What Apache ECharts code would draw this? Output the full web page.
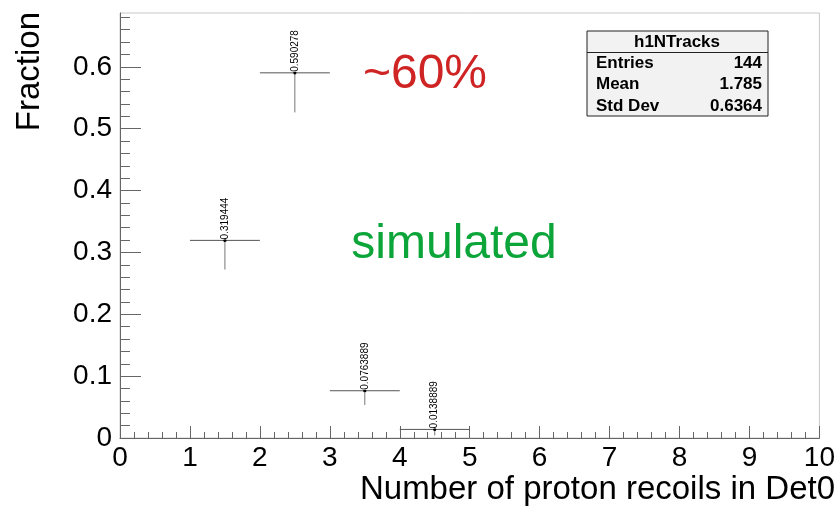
<!DOCTYPE html>
<html>
<head>
<meta charset="utf-8">
<script src="https://cdn.jsdelivr.net/npm/echarts@6/dist/echarts.min.js"></script>
<style>
html,body{margin:0;padding:0;background:#fff;}
#chart{width:838px;height:507px;}
</style>
</head>
<body>
<div id="chart"></div>
<script>
// ---- data ----
const binCenters = [1.5, 2.5, 3.5, 4.5];
const binHalfWidth = 0.5;
const fractions = [0.319444, 0.590278, 0.0763889, 0.0138889];
const errors = [0.0471, 0.0640, 0.0230, 0.0098];
const pointLabels = ['0.319444', '0.590278', '0.0763889', '0.0138889'];
const yTickValues = [0, 0.1, 0.2, 0.3, 0.4, 0.5, 0.6];
const statsTitle = 'h1NTracks';
const statsNames = ['Entries', 'Mean', 'Std Dev'];
const statsValues = ['144', '1.785', '0.6364'];
const xTitle = 'Number of proton recoils in Det0';
const yTitle = 'Fraction';

const FONT = '"Liberation Sans", Arial, Helvetica, sans-serif';
const chart = echarts.init(document.getElementById('chart'));

const seriesData = binCenters.map((c, i) => [c, fractions[i], errors[i]]);

const statsChildren = [
  {type: 'rect', shape: {x: 587, y: 31, width: 181, height: 85}, style: {fill: '#f2f2f2', stroke: '#222', lineWidth: 1}},
  {type: 'line', shape: {x1: 587, y1: 52.5, x2: 768, y2: 52.5}, style: {stroke: '#222', lineWidth: 1}},
  {type: 'text', x: 677, y: 42, style: {text: statsTitle, font: 'bold 17px ' + FONT, fill: '#000', align: 'center', verticalAlign: 'middle'}}
];
statsNames.forEach((n, i) => {
  const yy = 63 + i * 21.5;
  statsChildren.push({type: 'text', x: 596, y: yy, style: {text: n, font: 'bold 17px ' + FONT, fill: '#000', align: 'left', verticalAlign: 'middle'}});
  statsChildren.push({type: 'text', x: 762, y: yy, style: {text: statsValues[i], font: 'bold 17px ' + FONT, fill: '#000', align: 'right', verticalAlign: 'middle'}});
});

const option = {
  backgroundColor: '#fff',
  animation: false,
  grid: {left: 120, right: 17.5, top: 13, bottom: 69, show: true, borderColor: '#c8c8c8', borderWidth: 1, backgroundColor: 'transparent'},
  xAxis: {
    type: 'value', min: 0, max: 10, interval: 1,
    axisLine: {show: true, onZero: false, lineStyle: {color: '#666', width: 1}},
    axisTick: {show: true, inside: true, length: 12, lineStyle: {color: '#666'}},
    minorTick: {show: true, splitNumber: 5, length: 6, lineStyle: {color: '#666'}},
    splitLine: {show: false},
    axisLabel: {fontFamily: FONT, fontSize: 28, color: '#000', margin: 6}
  },
  yAxis: {
    type: 'value', min: 0, max: 0.687, interval: 0.1,
    axisLine: {show: true, onZero: false, lineStyle: {color: '#666', width: 1}},
    axisTick: {show: true, inside: true, length: 21, customValues: yTickValues, lineStyle: {color: '#666'}},
    minorTick: {show: true, splitNumber: 5, length: 10, lineStyle: {color: '#666'}},
    splitLine: {show: false},
    axisLabel: {fontFamily: FONT, fontSize: 28, color: '#000', margin: 8, showMaxLabel: false}
  },
  series: [{
    type: 'custom',
    data: seriesData,
    clip: false,
    renderItem: function (params, api) {
      const x = api.value(0), y = api.value(1), e = api.value(2);
      const lbl = pointLabels[params.dataIndex];
      const pL = api.coord([x - binHalfWidth, y]);
      const pR = api.coord([x + binHalfWidth, y]);
      const pT = api.coord([x, y + e]);
      const pB = api.coord([x, Math.max(0, y - e)]);
      const p = api.coord([x, y]);
      return {
        type: 'group',
        children: [
          {type: 'line', shape: {x1: pL[0], y1: p[1], x2: pR[0], y2: p[1]}, style: {stroke: '#555', lineWidth: 1}},
          {type: 'line', shape: {x1: p[0], y1: pT[1], x2: p[0], y2: pB[1]}, style: {stroke: '#777', lineWidth: 1}},
          {type: 'circle', shape: {cx: p[0], cy: p[1], r: 1.6}, style: {fill: '#000'}},
          {type: 'text', x: p[0], y: p[1] - 1, rotation: Math.PI / 2, z2: 10,
            style: {text: lbl, font: '10px ' + FONT, fill: '#000', align: 'left', verticalAlign: 'middle',
              backgroundColor: '#fff'}}
        ]
      };
    }
  }],
  graphic: [
    {type: 'text', x: 425, y: 75, style: {text: '~60%', font: '48px ' + FONT, fill: '#cf2424', align: 'center', verticalAlign: 'middle'}},
    {type: 'text', x: 454, y: 245, style: {text: 'simulated', font: '48px ' + FONT, fill: '#0ca53a', align: 'center', verticalAlign: 'middle'}},
    {type: 'text', x: 835, y: 490, style: {text: xTitle, font: '33px ' + FONT, fill: '#000', align: 'right', verticalAlign: 'middle'}},
    {type: 'text', x: 30, y: 12, rotation: Math.PI / 2, style: {text: yTitle, font: '33px ' + FONT, fill: '#000', align: 'right', verticalAlign: 'middle'}},
    {type: 'group', children: statsChildren}
  ]
};
chart.setOption(option);
</script>
</body>
</html>
